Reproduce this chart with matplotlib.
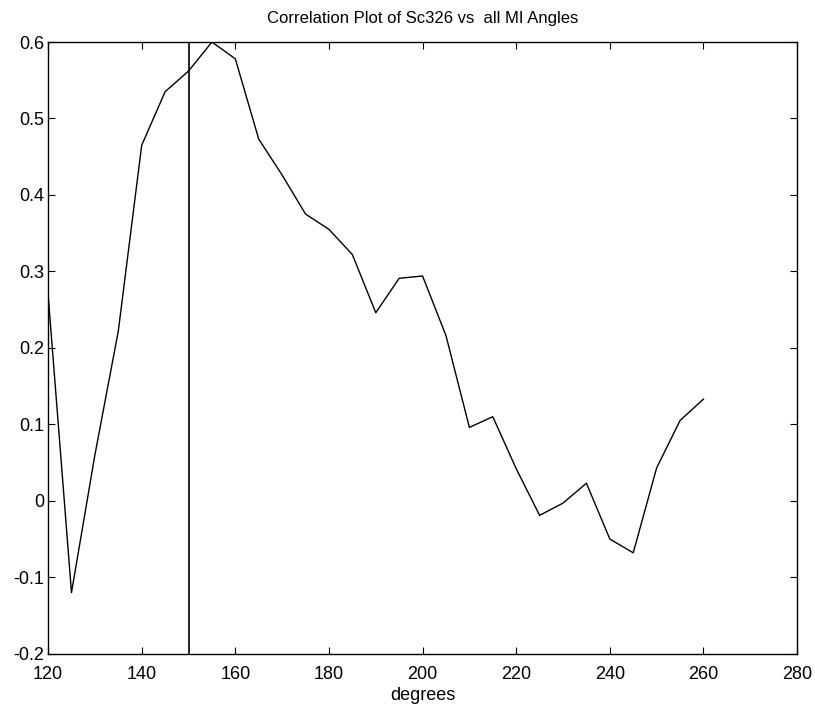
import numpy as np
import matplotlib
matplotlib.use('Agg')
import matplotlib.pyplot as plt

# angles (degrees) and correlation values
degrees = [120, 125, 130, 135, 140, 145, 150, 155, 160, 165, 170, 175, 180, 185,
           190, 195, 200, 205, 210, 215, 220, 225, 230, 235, 240, 245, 250, 255, 260]
corr = [0.27, -0.12, 0.06, 0.222, 0.465, 0.535, 0.562, 0.6, 0.578, 0.473, 0.426,
        0.375, 0.355, 0.322, 0.246, 0.291, 0.294, 0.216, 0.096, 0.11, 0.042,
        -0.019, -0.003, 0.023, -0.05, -0.068, 0.043, 0.105, 0.133]
marker_angle = 150

xticks = [120, 140, 160, 180, 200, 220, 240, 260, 280]
yticks = [-0.2, -0.1, 0, 0.1, 0.2, 0.3, 0.4, 0.5, 0.6]
ytick_labels = ['-0.2', '-0.1', '0', '0.1', '0.2', '0.3', '0.4', '0.5', '0.6']

plt.rcParams['font.family'] = ['Liberation Sans', 'DejaVu Sans']
plt.rcParams['axes.unicode_minus'] = False

fig = plt.figure(figsize=(8.15, 7.06), dpi=100)
ax = fig.add_axes([0.059, 0.074, 0.919, 0.8665])

ax.plot(degrees, corr, color='black', linewidth=1.0)
ax.axvline(marker_angle, color='black', linewidth=1.2)

ax.set_xlim(120, 280)
ax.set_ylim(-0.2, 0.6)
ax.set_xticks(xticks)
ax.set_xticklabels([str(t) for t in xticks])
ax.set_yticks(yticks)
ax.set_yticklabels(ytick_labels)

ax.tick_params(direction='in', top=True, right=True, length=5, width=0.8,
               labelsize=13)
ax.tick_params(axis='x', pad=9)
ax.tick_params(axis='y', pad=3)
for s in ax.spines.values():
    s.set_linewidth(1.0)

ax.set_title('Correlation Plot of Sc326 vs  all MI Angles', fontsize=12, pad=14)
ax.set_xlabel('degrees', fontsize=13, labelpad=3)

fig.savefig('out.png', dpi=100)
